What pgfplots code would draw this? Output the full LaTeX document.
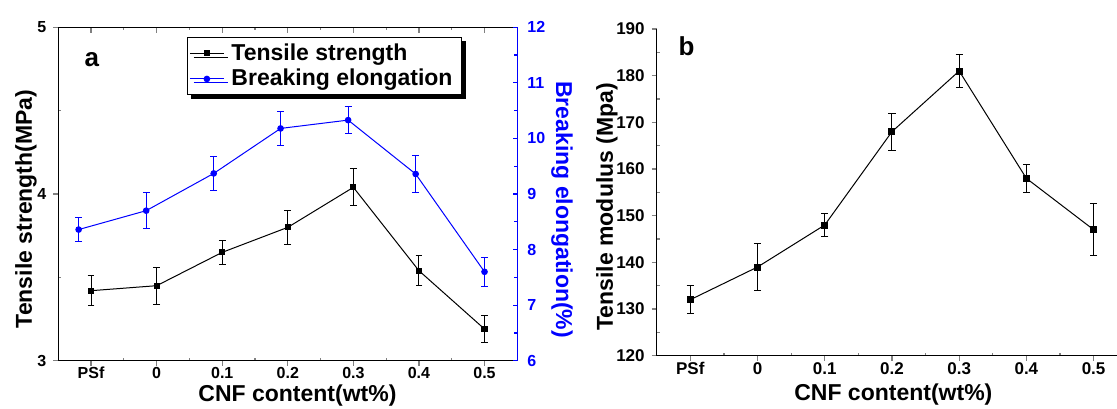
\documentclass[border=0pt]{standalone}
\usepackage{fontspec}
\setmainfont{Liberation Sans}
\usepackage{pgfplots}
\pgfplotsset{compat=1.18}
\usetikzlibrary{shadows}
\definecolor{eblue}{RGB}{0,0,255}

\newcommand{\lblfont}{\bfseries\fontsize{11.5}{13}\selectfont}

\pgfplotsset{
  base/.style={
    scale only axis,
    anchor=south west,
    clip=false,
    xmin=-0.5, xmax=6.5,
    xtick={0,...,6},
    minor x tick num=1,
    axis line style={-, line width=0.7pt},
    tick label style={font=\bfseries\fontsize{8}{9}\selectfont},
    xticklabel style={yshift=2.8pt},
    major tick length=2.5pt,
    minor tick length=1.5pt,
    tick style={line width=0.6pt},
  },
  cats/.style={xticklabels={PSf,0,0.1,0.2,0.3,0.4,0.5}},
}

\begin{document}
\begin{tikzpicture}

% ---- panel a: tensile strength (left axis)
\begin{axis}[
  base, cats,
  at={(29.15pt,23.65pt)},
  width=229.5pt, height=166.7pt,
  ymin=3, ymax=5,
  ytick={3,4,5}, yticklabels={3,4,5},
  minor y tick num=1,
  axis x line*=bottom, axis y line*=left,
  tick align=outside,
  minor x tick style={yshift=1.5pt},
  minor y tick style={xshift=1.5pt},
  xlabel={CNF content(wt\%)},
  ylabel={Tensile strength(MPa)},
  every axis x label/.style={at={(rel axis cs:0.521,0)}, yshift=-17.6pt, anchor=center, font=\lblfont},
  every axis y label/.style={at={(rel axis cs:0,0.455)}, xshift=-16.2pt, rotate=90, anchor=center, font=\lblfont},
  legend style={
    at={(rel axis cs:0.28,0.971)}, anchor=north west,
    draw=black, line width=0.5pt,
    font=\lblfont,
    inner xsep=1pt, inner ysep=1pt, row sep=-1pt,
    cells={anchor=west},
    nodes={inner xsep=3.5pt},
    drop shadow={shadow xshift=2pt, shadow yshift=-2pt, fill=black, opacity=1},
  },
]
\addplot[black, line width=0.5pt, mark=square*, mark size=1.3pt,
  error bars/.cd, y dir=both, y explicit,
  error bar style={black, line width=0.5pt},
  error mark options={rotate=90, mark size=1.7pt, line width=0.5pt, black}]
coordinates {
  (0,3.42) +- (0,0.09)
  (1,3.45) +- (0,0.11)
  (2,3.65) +- (0,0.07)
  (3,3.80) +- (0,0.10)
  (4,4.04) +- (0,0.11)
  (5,3.54) +- (0,0.09)
  (6,3.19) +- (0,0.08)
};
\addlegendentry{Tensile strength}
\addlegendimage{eblue, line width=0.5pt, mark=*, mark size=1.4pt}
\addlegendentry{Breaking elongation}
\node[font=\bfseries\fontsize{13}{15}\selectfont] at (rel axis cs:0.073,0.904) {a};
\end{axis}

% ---- panel a: top frame
\begin{axis}[
  base,
  at={(29.15pt,23.65pt)},
  width=229.5pt, height=166.7pt,
  ymin=3, ymax=5,
  axis x line*=top, axis y line=none,
  tick align=inside,
  major tick length=3pt,
  xticklabels={},
]
\end{axis}

% ---- panel a: breaking elongation (right axis)
\begin{axis}[
  base,
  at={(29.15pt,23.65pt)},
  width=229.5pt, height=166.7pt,
  ymin=6, ymax=12,
  ytick={6,...,12}, yticklabels={6,7,8,9,10,11,12},
  minor y tick num=1,
  axis y line*=right, axis x line=none,
  tick align=inside,
  major tick length=2.2pt,
  y axis line style={eblue},
  ytick style={eblue},
  yticklabel style={eblue, xshift=1.5pt},
  ylabel={Breaking elongation(\%)},
  every axis y label/.style={at={(rel axis cs:1,0.453)}, xshift=22.4pt, rotate=-90, anchor=center, text=eblue, font=\lblfont},
]
\addplot[eblue, line width=0.5pt, mark=*, mark size=1.4pt,
  error bars/.cd, y dir=both, y explicit,
  error bar style={eblue, line width=0.5pt},
  error mark options={rotate=90, mark size=1.7pt, line width=0.5pt, eblue}]
coordinates {
  (-0.19,8.36) +- (0,0.22)
  (0.84,8.70) +- (0,0.32)
  (1.87,9.37) +- (0,0.30)
  (2.89,10.18) +- (0,0.30)
  (3.92,10.33) +- (0,0.25)
  (4.95,9.36) +- (0,0.34)
  (6.00,7.60) +- (0,0.26)
};
\end{axis}

% ---- panel b: tensile modulus
\begin{axis}[
  base, cats,
  at={(328.35pt,26.15pt)},
  width=230.2pt, height=163.35pt,
  xmax=6.35,
  ymin=120, ymax=190,
  ytick={120,130,...,190},
  yticklabels={120,130,140,150,160,170,180,190},
  minor y tick num=1,
  axis x line*=bottom, axis y line*=left,
  tick align=outside,
  tick label style={font=\bfseries\fontsize{8.5}{10}\selectfont},
  minor x tick style={yshift=1.5pt},
  minor y tick style={xshift=1.5pt},
  xlabel={CNF content(wt\%)},
  ylabel={Tensile modulus (Mpa)},
  every axis x label/.style={at={(rel axis cs:0.514,0)}, yshift=-19.2pt, anchor=center, font=\lblfont},
  every axis y label/.style={at={(rel axis cs:0,0.456)}, xshift=-24.9pt, rotate=90, anchor=center, font=\lblfont},
]
\addplot[black, line width=0.5pt, mark=square*, mark size=1.5pt,
  error bars/.cd, y dir=both, y explicit,
  error bar style={black, line width=0.5pt},
  error mark options={rotate=90, mark size=1.8pt, line width=0.5pt, black}]
coordinates {
  (0,132) +- (0,3)
  (1,139) +- (0,5)
  (2,148) +- (0,2.5)
  (3,168) +- (0,4)
  (4,181) +- (0,3.5)
  (5,158) +- (0,3)
  (6,147) +- (0,5.6)
};
\node[font=\bfseries\fontsize{13}{15}\selectfont] at (rel axis cs:0.065,0.946) {b};
\end{axis}

\pgfresetboundingbox
\useasboundingbox (0,0) rectangle (558.5pt,204pt);
\end{tikzpicture}
\end{document}
